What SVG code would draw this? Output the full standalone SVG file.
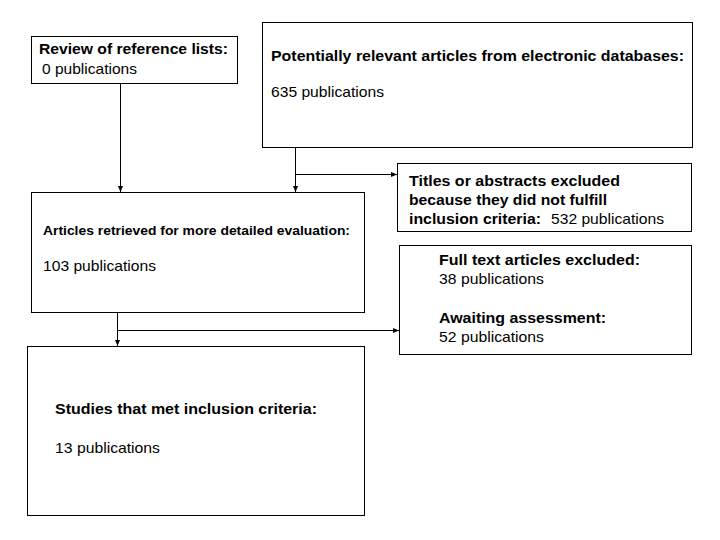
<svg xmlns="http://www.w3.org/2000/svg" width="720" height="540" viewBox="0 0 720 540">
<style>
.box{fill:#fff;stroke:#000;stroke-width:1}
.b{font-family:"Liberation Sans",Arial,sans-serif;font-weight:bold;font-size:15px;fill:#000}
.r{font-family:"Liberation Sans",Arial,sans-serif;font-size:15px;fill:#000}
.s{font-size:13px}
.ln{fill:none;stroke:#000;stroke-width:1}
</style>
<defs>
<marker id="ah" viewBox="0 0 6 6" refX="6" refY="3" markerWidth="6" markerHeight="6" markerUnits="userSpaceOnUse" orient="auto">
<path d="M0,0.5 L6,3 L0,5.5 Z" fill="#000"/>
</marker>
</defs>
<rect width="720" height="540" fill="#fff"/>
<g id="review">
<rect class="box" x="31.5" y="36.5" width="206" height="47"/>
<text class="b" x="39" y="54" textLength="189" lengthAdjust="spacingAndGlyphs">Review of reference lists:</text>
<text class="r" x="42" y="74" textLength="95" lengthAdjust="spacingAndGlyphs">0 publications</text>
</g>
<g id="potential">
<rect class="box" x="262.5" y="22.5" width="430" height="125"/>
<text class="b" x="271" y="61" textLength="413" lengthAdjust="spacingAndGlyphs">Potentially relevant articles from electronic databases:</text>
<text class="r" x="271" y="97" textLength="113" lengthAdjust="spacingAndGlyphs">635 publications</text>
</g>
<g id="titles">
<rect class="box" x="397.5" y="163.5" width="294" height="68"/>
<text class="b" x="409" y="186" textLength="211" lengthAdjust="spacingAndGlyphs">Titles or abstracts excluded</text>
<text class="b" x="409" y="205" textLength="198" lengthAdjust="spacingAndGlyphs">because they did not fulfill</text>
<text class="b" x="409" y="224" textLength="132" lengthAdjust="spacingAndGlyphs">inclusion criteria:</text>
<text class="r" x="551" y="224" textLength="113" lengthAdjust="spacingAndGlyphs">532 publications</text>
</g>
<g id="articles">
<rect class="box" x="31.5" y="192.5" width="333" height="120"/>
<text class="b s" x="43" y="235" textLength="307" lengthAdjust="spacingAndGlyphs">Articles retrieved for more detailed evaluation:</text>
<text class="r" x="43" y="271" textLength="113" lengthAdjust="spacingAndGlyphs">103 publications</text>
</g>
<g id="fulltext">
<rect class="box" x="399.5" y="245.5" width="292" height="109"/>
<text class="b" x="439" y="265" textLength="201" lengthAdjust="spacingAndGlyphs">Full text articles excluded:</text>
<text class="r" x="439" y="284" textLength="105" lengthAdjust="spacingAndGlyphs">38 publications</text>
<text class="b" x="439" y="323" textLength="167" lengthAdjust="spacingAndGlyphs">Awaiting assessment:</text>
<text class="r" x="439" y="342" textLength="105" lengthAdjust="spacingAndGlyphs">52 publications</text>
</g>
<g id="studies">
<rect class="box" x="27.5" y="346.5" width="337" height="169"/>
<text class="b" x="55" y="414" textLength="262" lengthAdjust="spacingAndGlyphs">Studies that met inclusion criteria:</text>
<text class="r" x="55" y="453" textLength="105" lengthAdjust="spacingAndGlyphs">13 publications</text>
</g>
<g id="connectors">
<line class="ln" x1="120.5" y1="84" x2="120.5" y2="192" marker-end="url(#ah)"/>
<line class="ln" x1="295.5" y1="148" x2="295.5" y2="192" marker-end="url(#ah)"/>
<line class="ln" x1="295.5" y1="174.5" x2="397" y2="174.5" marker-end="url(#ah)"/>
<line class="ln" x1="117.5" y1="313" x2="117.5" y2="346" marker-end="url(#ah)"/>
<line class="ln" x1="117.5" y1="330.5" x2="399" y2="330.5" marker-end="url(#ah)"/>
</g>
</svg>
